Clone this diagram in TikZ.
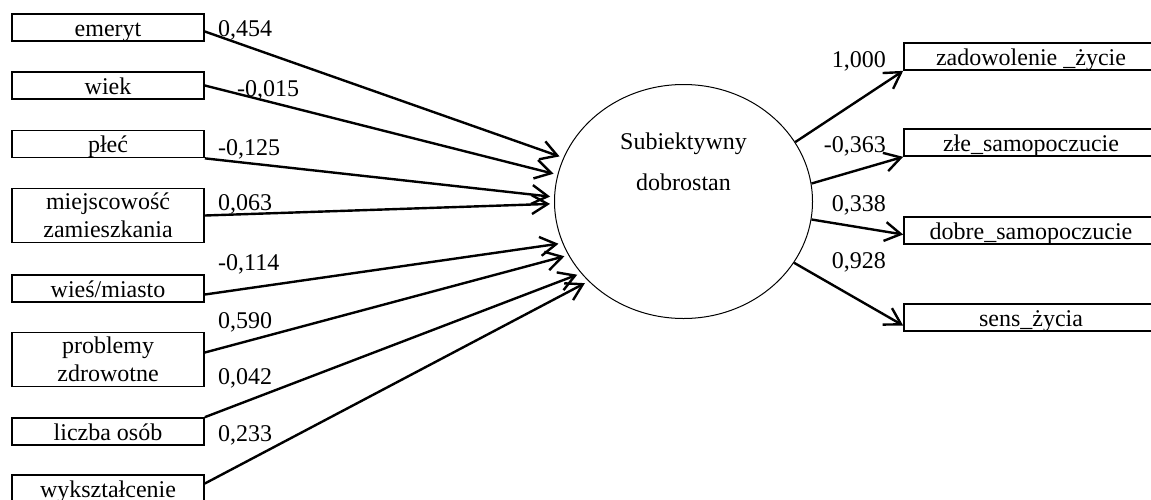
\documentclass[tikz,border=0pt]{standalone}
\usepackage{fontspec}
\setmainfont{Liberation Serif}
\usetikzlibrary{shapes.geometric, arrows.meta, positioning}
\tikzstyle{varbox} = [
	rectangle,
	minimum width=192pt,
	minimum height=27pt,
	inner sep=0pt,
	text height=17pt,
	text depth=0pt,
	text centered,
	draw=black,
	line width=1.7pt
]
\tikzstyle{twoline} = [
	varbox,
	text height=,
	text depth=,
	minimum height=54pt,
	align=center
]
\tikzstyle{indicator} = [
	varbox,
	minimum width=254pt
]
\tikzstyle{latent} = [
	ellipse,
	minimum width=258pt,
	minimum height=234pt,
	inner sep=0pt,
	draw=black,
	line width=1pt
]
\tikzstyle{coef} = [inner sep=0pt]
\tikzstyle{arrow} = [line width=2.4pt,-{Straight Barb[length=16pt,width=19pt]}]

\begin{document}
\begin{tikzpicture}[x=1pt, y=-1pt, font=\fontsize{24}{28}\selectfont]

		\clip (0,0) rectangle (1151,499);

		\node (emeryt) [varbox] at (108,27.5) {emeryt};
		\node (wiek) [varbox] at (108,85.5) {wiek};
		\node (plec) [varbox] at (108,144) {płeć};
		\node (miejsc) [twoline] at (108,215.5) {miejscowość\\zamieszkania};
		\node (wiesmiasto) [varbox] at (108,288.5) {wieś/miasto};
		\node (problemy) [twoline] at (108,359.5) {problemy\\zdrowotne};
		\node (liczba) [varbox] at (108,431.5) {liczba osób};
		\node (wyksztal) [varbox] at (108,488.5) {wykształcenie};

		\node (sd) [latent] at (683.5,201.5) {};
		\node (sdtext) [align=center, font=\fontsize{24}{41}\selectfont] at (683.5,162) {Subiektywny\\dobrostan};

		\node (zadow) [indicator] at (1031,56.5) {zadowolenie \_życie};
		\node (zle) [indicator] at (1031,142.5) {złe\_samopoczucie};
		\node (dobre) [indicator] at (1031,230.5) {dobre\_samopoczucie};
		\node (sens) [indicator] at (1031,317.5) {sens\_życia};

		\node (c454) [coef, anchor=base west] at (218,36) {0,454};
		\node (c015) [coef, anchor=base west] at (237,96) {-0,015};
		\node (c125) [coef, anchor=base west] at (218,155) {-0,125};
		\node (c063) [coef, anchor=base west] at (218,210) {0,063};
		\node (c114) [coef, anchor=base west] at (218,270) {-0,114};
		\node (c590) [coef, anchor=base west] at (218,328) {0,590};
		\node (c042) [coef, anchor=base west] at (218,384) {0,042};
		\node (c233) [coef, anchor=base west] at (218,441) {0,233};

		\node (c1000) [coef, anchor=base east] at (886,67) {1,000};
		\node (c363) [coef, anchor=base east] at (886,152) {-0,363};
		\node (c338) [coef, anchor=base east] at (886,211) {0,338};
		\node (c928) [coef, anchor=base east] at (886,268) {0,928};

		\draw [arrow, shorten >=4pt] ([yshift=-4pt]emeryt.east) -- (sd.160);
		\draw [arrow, shorten >=4pt] (wiek.east) -- (sd.168);
		\draw [arrow, shorten >=4pt] (plec.south east) -- (sd.178);
		\draw [arrow, shorten >=4pt] (miejsc.east) -- (sd.181);
		\draw [arrow, shorten >=4pt] ([yshift=-6pt]wiesmiasto.east) -- (sd.199);
		\draw [arrow, shorten >=4pt] ([yshift=7pt]problemy.east) -- (sd.205);
		\draw [arrow, shorten >=4pt] (liczba.north east) -- (sd.215);
		\draw [arrow, shorten >=4pt] ([yshift=5pt]wyksztal.east) -- (sd.220);

		\draw [arrow] (sd.28) -- (zadow.south west);
		\draw [arrow] (sd.8) -- (zle.south west);
		\draw [arrow] (sd.352) -- ([yshift=-4pt]dobre.west);
		\draw [arrow] (sd.331) -- ([yshift=-8pt]sens.west);

	\end{tikzpicture}
\end{document}
